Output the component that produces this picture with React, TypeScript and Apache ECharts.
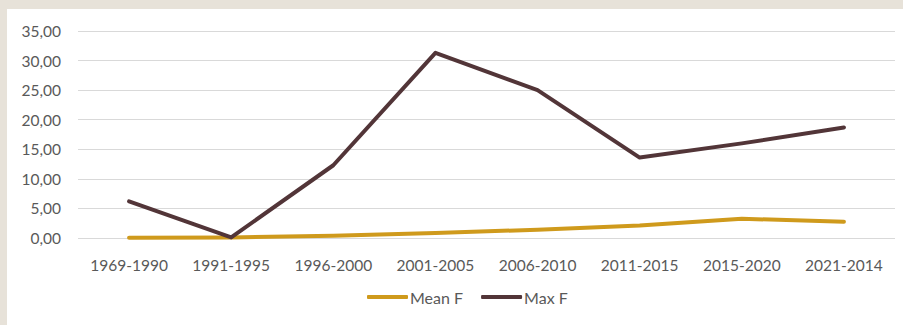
import React, { useEffect, useRef } from "react";
import * as echarts from "echarts";

const categories = ["1969-1990", "1991-1995", "1996-2000", "2001-2005", "2006-2010", "2011-2015", "2015-2020", "2021-2014"];
const meanF = [0.05, 0.1, 0.4, 0.85, 1.4, 2.1, 3.25, 2.75];
const maxF = [6.2, 0.1, 12.3, 31.3, 25.0, 13.6, 16.0, 18.7];

export default function App() {
  const ref = useRef<HTMLDivElement>(null);
  useEffect(() => {
    if (!ref.current) return;
    const chart = echarts.init(ref.current, undefined, { renderer: "svg" });
    const font = "Lato, 'Open Sans', sans-serif";
    chart.setOption({
      animation: false,
      backgroundColor: "#ffffff",
      grid: { left: 71, right: 8, top: 22, bottom: 87 },
      legend: {
        bottom: 15,
        left: 355,
        itemWidth: 41,
        itemHeight: 4,
        itemGap: 18,
        icon: "roundRect",
        textStyle: { color: "#595959", fontSize: 16, fontFamily: font, padding: [0, 0, 0, -3] },
        data: ["Mean F", "Max F"],
      },
      xAxis: {
        type: "category",
        data: categories,
        boundaryGap: true,
        axisLine: { show: false },
        axisTick: { show: false },
        axisLabel: { color: "#595959", fontSize: 15.5, fontFamily: font, margin: 19 },
      },
      yAxis: {
        type: "value",
        min: 0,
        max: 35,
        interval: 5,
        axisLine: { show: false },
        axisTick: { show: false },
        splitLine: { lineStyle: { color: "#d9d9d9", width: 1 } },
        axisLabel: {
          color: "#595959",
          fontSize: 15.5,
          fontFamily: font,
          margin: 17,
          formatter: (v: number) => v.toFixed(2).replace(".", ","),
        },
      },
      series: [
        {
          name: "Mean F",
          type: "line",
          data: meanF,
          symbol: "none",
          lineStyle: { color: "#cf9a1c", width: 4, cap: "round", join: "round" },
          itemStyle: { color: "#cf9a1c" },
        },
        {
          name: "Max F",
          type: "line",
          data: maxF,
          symbol: "none",
          lineStyle: { color: "#523538", width: 4, cap: "round", join: "round" },
          itemStyle: { color: "#523538" },
        },
      ],
    });
    return () => chart.dispose();
  }, []);
  return (
    <div style={{ position: "fixed", left: 0, top: 0, width: 903, height: 325, background: "#e7e2d9" }}>
      <div ref={ref} style={{ position: "absolute", left: 7, top: 9, width: 896, height: 316 }} />
    </div>
  );
}
